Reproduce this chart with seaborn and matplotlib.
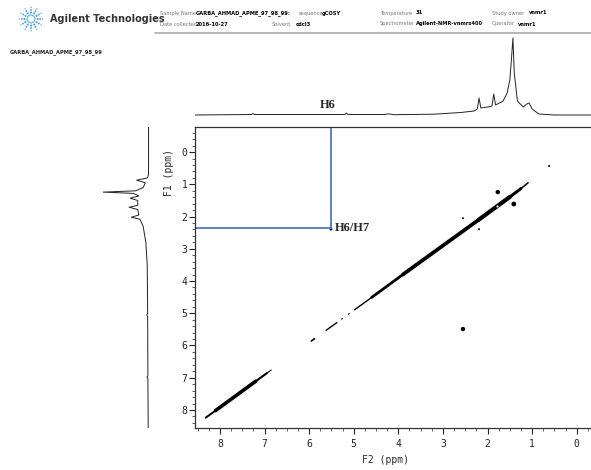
import matplotlib as mpl
import numpy as np
import pandas as pd

mpl.use('Agg')
import matplotlib.pyplot as plt
import seaborn as sns

# ----- 1D projection on top (F2) -----
top_ppm = [8.56, 7.30, 7.26, 7.22, 5.20, 5.17, 5.13, 4.30, 4.23, 4.10, 3.20, 2.60, 2.30, 2.23,
           2.19, 2.15, 2.00, 1.90, 1.86, 1.82, 1.65, 1.56, 1.50, 1.46, 1.43, 1.40, 1.33, 1.20,
           1.12, 1.07, 1.00, 0.85, 0.50, -0.50]
top_int = [0.0, 0.5, 1.5, 0.5, 0.5, 2.0, 0.5, 0.5, 1.2, 0.3, 0.8, 2.5, 4.0, 6.0,
           17.0, 7.0, 8.0, 9.0, 21.0, 10.0, 14.0, 22.0, 35.0, 58.0, 77.0, 42.0, 14.0, 8.0,
           11.0, 12.0, 6.0, 1.0, 0.0, 0.0]

# ----- 1D projection on the left (F1) -----
left_ppm = [-0.78, 0.70, 0.80, 0.87, 0.95, 1.10, 1.20, 1.24, 1.28, 1.36, 1.43, 1.50, 1.65,
            1.71, 1.78, 1.95, 2.02, 2.08, 2.30, 2.80, 3.50, 5.00, 5.05, 5.10, 6.95, 6.98,
            7.02, 8.56]
left_int = [0.0, 0.0, 1.0, 11.0, 3.0, 5.0, 12.0, 42.0, 14.0, 9.0, 17.0, 10.0, 10.0,
            18.0, 10.0, 9.0, 16.0, 8.0, 5.0, 2.5, 1.2, 0.8, 1.6, 0.8, 0.6, 1.5,
            0.6, 0.3]

# ----- diagonal of the COSY map (segments) -----
diag_x_from = [8.32, 8.10, 7.20, 6.95, 5.95, 5.62, 5.27, 5.12, 4.98, 4.60, 3.90, 2.20, 1.50, 1.25]
diag_x_to = [8.10, 7.20, 6.95, 6.85, 5.88, 5.38, 5.25, 5.10, 4.60, 3.90, 2.20, 1.50, 1.25, 1.09]
diag_y_from = [8.24, 8.02, 7.11, 6.86, 5.86, 5.53, 5.18, 5.03, 4.89, 4.51, 3.80, 2.10, 1.39, 1.13]
diag_y_to = [8.02, 7.11, 6.86, 6.76, 5.79, 5.29, 5.16, 5.01, 4.51, 3.80, 2.10, 1.39, 1.13, 0.95]
diag_width = [1.4, 2.6, 1.5, 0.8, 1.2, 1.0, 0.9, 0.8, 1.0, 2.0, 2.7, 3.0, 2.2, 1.1]

# ----- cross peaks -----
cross_f2 = [5.51, 2.55, 2.55, 2.19, 1.77, 1.41, 0.62]
cross_f1 = [2.39, 5.49, 2.05, 2.39, 1.24, 1.61, 0.43]
cross_size = [4, 10, 2, 2, 10, 12, 2]

# ----- annotation -----
h6_f2 = 5.51
h6_f1 = 2.36

# ----- logo rays -----
logo_angles = [0, 30, 60, 90, 120, 150, 180, 210, 240, 270, 300, 330]
logo_radii = [0.3, 0.5, 0.7, 0.9]

blue = '#4a78c2'
mono = 'DejaVu Sans Mono'

sns.set_theme(style='ticks')
plt.rcParams['font.family'] = ['DejaVu Sans']

fig = plt.figure(figsize=(5.91, 4.70), dpi=100)
W, H = 591, 470


def px_axes(x0, y0, x1, y1):
    return fig.add_axes([x0 / W, 1 - y1 / H, (x1 - x0) / W, (y1 - y0) / H])


# ----- main 2D axes -----
ax = px_axes(195, 127, 599, 428)
xlim = (8.56, -0.50)
ylim = (8.56, -0.78)
for xf, xt, yf, yt, lw in zip(diag_x_from, diag_x_to, diag_y_from, diag_y_to, diag_width):
    ax.plot([xf, xt], [yf, yt], color='black', lw=lw, solid_capstyle='round')
ax.plot([1.79], [1.66], marker='o', ms=1.6, color='white', mew=0)

peaks = pd.DataFrame({'f2': cross_f2, 'f1': cross_f1, 'size': cross_size})
sns.scatterplot(data=peaks, x='f2', y='f1', size='size', sizes=(min(cross_size), max(cross_size)),
                color='black', edgecolor='none', legend=False, ax=ax)

ax.plot([h6_f2, h6_f2], [ylim[1], h6_f1], color=blue, lw=1.3)
ax.plot([xlim[0], h6_f2], [h6_f1, h6_f1], color=blue, lw=1.3)
ax.text(h6_f2 - 0.08, h6_f1, 'H6/H7', family='Liberation Serif', weight='bold', fontsize=9,
        ha='left', va='center')

ax.set_xlim(xlim)
ax.set_ylim(ylim)
ax.set_xticks(range(0, 9))
ax.set_yticks(range(0, 9))
ax.set_xticks(np.arange(-0.25, 8.6, 0.25), minor=True)
ax.set_yticks(np.arange(-0.6, 8.6, 0.2), minor=True)
ax.tick_params(which='major', length=4, width=0.8, labelsize=7, colors='#222222')
ax.tick_params(axis='x', which='major', pad=4)
ax.tick_params(axis='y', which='major', pad=1.5)
ax.tick_params(which='minor', length=2.2, width=0.6, colors='#444444')
for lab in ax.get_xticklabels() + ax.get_yticklabels():
    lab.set_family(mono)
ax.spines['right'].set_visible(False)
for s in ['top', 'left', 'bottom']:
    ax.spines[s].set_linewidth(0.9)
    ax.spines[s].set_color('#333333')
ax.set_xlabel('F2 (ppm)', family=mono, fontsize=7)
ax.set_ylabel('F1 (ppm)', family=mono, fontsize=7)
ax.xaxis.set_label_coords((385 - 195) / 404, -(460 - 428) / 301)
ax.yaxis.set_label_coords(-(195 - 169) / 404, 1 - (172 - 127) / 301)
ax.xaxis.label.set_verticalalignment('center')
ax.yaxis.label.set_verticalalignment('center')

# ----- top projection -----
ax_top = px_axes(195, 36, 599, 118)
top_df = pd.DataFrame({'ppm': top_ppm, 'int': top_int})
sns.lineplot(data=top_df, x='ppm', y='int', color='#222222', lw=0.7, sort=False, ax=ax_top)
ax_top.set_xlim(xlim)
ax_top.set_ylim(-3, 79)
ax_top.axis('off')
ax_top.text(5.58, 4.5, 'H6', family='Liberation Serif', weight='bold', fontsize=9,
            ha='center', va='bottom')

# ----- left projection -----
ax_left = px_axes(100, 127, 155, 428)
left_df = pd.DataFrame({'ppm': left_ppm, 'int': left_int})
sns.lineplot(data=left_df, x='int', y='ppm', color='#222222', lw=0.7, sort=False,
             orient='y', ax=ax_left)
ax_left.set_xlim(45, -6)
ax_left.set_ylim(ylim)
ax_left.axis('off')

# ----- header -----
ax_logo = px_axes(18, 6, 44, 32)
for a in logo_angles:
    r = np.array(logo_radii)
    ax_logo.scatter(r * np.cos(np.radians(a)), r * np.sin(np.radians(a)),
                    s=[1.5, 2.5, 2, 1], color='#5aa7e0', edgecolor='none')
ax_logo.set_xlim(-1, 1)
ax_logo.set_ylim(-1, 1)
ax_logo.axis('off')

fig.text(50 / W, 1 - 19 / H, 'Agilent Technologies', fontsize=7, weight='bold',
         color='#333333', va='center')

gray = '#777777'
small = 3.7
header_items = [
    (160, 13, 'Sample Name', gray, 'normal'),
    (196, 13, 'GARBA_AHMAD_APME_97_98_99:', 'black', 'bold'),
    (299, 13, 'sequence', gray, 'normal'),
    (322, 13, 'gCOSY', 'black', 'bold'),
    (160, 24, 'Date collected', gray, 'normal'),
    (196, 24, '2016-10-27', 'black', 'bold'),
    (272, 24, 'Solvent', gray, 'normal'),
    (296, 24, 'cdcl3', 'black', 'bold'),
    (380, 13, 'Temperature', gray, 'normal'),
    (416, 13, '31', 'black', 'bold'),
    (380, 24, 'Spectrometer', gray, 'normal'),
    (416, 24, 'Agilent-NMR-vnmrs400', 'black', 'bold'),
    (492, 13, 'Study owner', gray, 'normal'),
    (529, 13, 'vnmr1', 'black', 'bold'),
    (492, 24, 'Operator', gray, 'normal'),
    (518, 24, 'vnmr1', 'black', 'bold'),
]
for x, y, t, c, w in header_items:
    fig.text(x / W, 1 - y / H, t, fontsize=small, color=c, weight=w, va='center')
fig.add_artist(plt.Line2D([155 / W, 1], [1 - 33 / H, 1 - 33 / H], color='#aaaaaa', lw=1.2))
fig.text(10 / W, 1 - 52 / H, 'GARBA_AHMAD_APME_97_98_99', fontsize=small, weight='bold',
         color='#222222', va='center')

fig.savefig('out.png', dpi=100)
